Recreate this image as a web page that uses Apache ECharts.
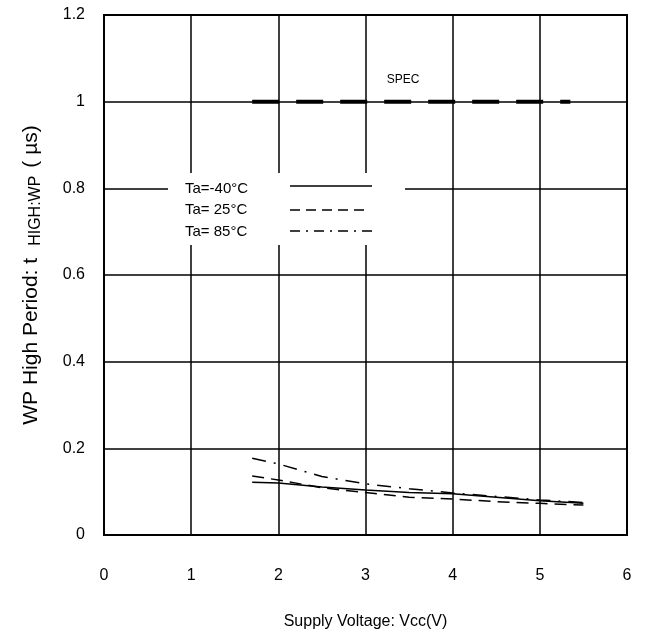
<!DOCTYPE html>
<html>
<head>
<meta charset="utf-8">
<script src="https://cdn.jsdelivr.net/npm/echarts@6/dist/echarts.min.js"></script>
<style>html,body{margin:0;padding:0;background:#fff;}#c{width:652px;height:639px;}</style>
</head>
<body>
<div id="c"></div>
<script>
var vcc = [1.7, 2, 2.5, 3, 3.5, 4, 4.5, 5, 5.5];
var tM40 = [0.122, 0.120, 0.111, 0.104, 0.098, 0.095, 0.087, 0.079, 0.073];
var t25 = [0.136, 0.127, 0.109, 0.098, 0.087, 0.083, 0.077, 0.073, 0.069];
var t85 = [0.177, 0.164, 0.135, 0.118, 0.107, 0.097, 0.089, 0.081, 0.075];
var specX = [1.7, 5.35];
var specY = [1, 1];
var seriesNames = ['Ta=-40°C', 'Ta= 25°C', 'Ta= 85°C'];
var xTicks = [0, 1, 2, 3, 4, 5, 6];

function pairs(xs, ys) { return xs.map(function (x, i) { return [x, ys[i]]; }); }

var chart = echarts.init(document.getElementById('c'));
var FONT = 'Liberation Sans, Arial, sans-serif';
chart.setOption({
  animation: false,
  backgroundColor: '#fff',
  grid: { left: 104, right: 25, top: 15, bottom: 104, show: true, borderColor: '#000', borderWidth: 2, z: 3 },
  xAxis: {
    type: 'value', min: 0, max: 6, interval: 1,
    name: 'Supply Voltage: Vcc(V)', nameLocation: 'middle', nameGap: 79,
    nameTextStyle: { fontFamily: FONT, fontSize: 16, color: '#000' },
    axisLine: { show: true, lineStyle: { color: '#000', width: 2 } },
    axisTick: { show: false },
    axisLabel: { fontFamily: FONT, fontSize: 16, color: '#000', margin: 33 },
    splitLine: { show: true, lineStyle: { color: '#000', width: 1.5 } }
  },
  yAxis: {
    type: 'value', min: 0, max: 1.2, interval: 0.2,
    name: 'WP High Period: t{g1| }{sub|HIGH:WP}{g2| }( µs)', nameLocation: 'middle', nameGap: 60,
    nameTextStyle: {
      fontFamily: FONT, fontSize: 21, color: '#000', lineHeight: 25,
      rich: {
        sub: { fontFamily: FONT, fontSize: 16, color: '#000', verticalAlign: 'bottom', lineHeight: 24 },
        g1: { fontSize: 21, width: 12, lineHeight: 25 },
        g2: { fontSize: 21, width: 8, lineHeight: 25 }
      }
    },
    axisLine: { show: true, lineStyle: { color: '#000', width: 2 } },
    axisTick: { show: false },
    axisLabel: { fontFamily: FONT, fontSize: 16, color: '#000', margin: 19 },
    splitLine: { show: true, lineStyle: { color: '#000', width: 1.5 } }
  },
  graphic: [
    { type: 'rect', z: 100, shape: { x: 168, y: 173, width: 237, height: 72 }, style: { fill: '#fff' } },
    { type: 'text', z: 101, style: { x: 185, y: 189, text: seriesNames[0], fontFamily: FONT, fontSize: 15, fill: '#000', verticalAlign: 'middle' } },
    { type: 'text', z: 101, style: { x: 185, y: 210, text: seriesNames[1], fontFamily: FONT, fontSize: 15, fill: '#000', verticalAlign: 'middle' } },
    { type: 'text', z: 101, style: { x: 185, y: 232, text: seriesNames[2], fontFamily: FONT, fontSize: 15, fill: '#000', verticalAlign: 'middle' } },
    { type: 'line', z: 101, shape: { x1: 290, y1: 186, x2: 372, y2: 186 }, style: { stroke: '#000', lineWidth: 1.5 } },
    { type: 'line', z: 101, shape: { x1: 290, y1: 210, x2: 370, y2: 210 }, style: { stroke: '#000', lineWidth: 1.5, lineDash: [10, 6] } },
    { type: 'line', z: 101, shape: { x1: 290, y1: 231, x2: 372, y2: 231 }, style: { stroke: '#000', lineWidth: 1.5, lineDash: [10, 6, 2, 6] } },
    { type: 'text', z: 101, style: { x: 403, y: 80, text: 'SPEC', fontFamily: FONT, fontSize: 12, fill: '#000', align: 'center', verticalAlign: 'middle' } }
  ],
  series: [
    { type: 'line', name: 'SPEC', data: pairs(specX, specY), symbol: 'none', z: 5,
      lineStyle: { color: '#000', width: 4, type: [27, 17] } },
    { type: 'line', name: seriesNames[0], data: pairs(vcc, tM40), symbol: 'none', z: 5,
      lineStyle: { color: '#000', width: 1.5, type: 'solid' } },
    { type: 'line', name: seriesNames[1], data: pairs(vcc, t25), symbol: 'none', z: 5,
      lineStyle: { color: '#000', width: 1.5, type: [12, 7] } },
    { type: 'line', name: seriesNames[2], data: pairs(vcc, t85), symbol: 'none', z: 5,
      lineStyle: { color: '#000', width: 1.5, type: [14, 8, 2, 8] } }
  ]
});
</script>
</body>
</html>
